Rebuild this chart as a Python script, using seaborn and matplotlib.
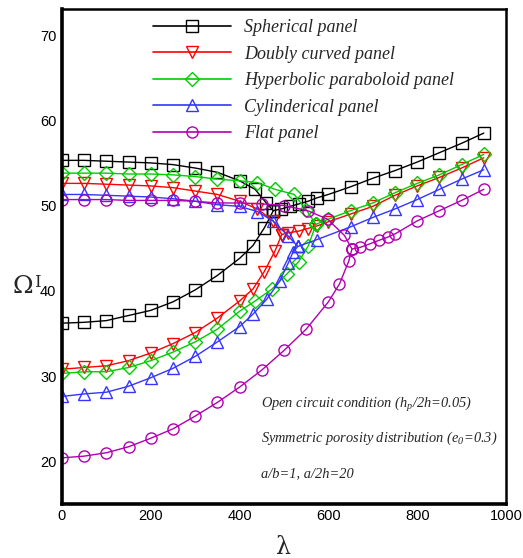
import matplotlib
matplotlib.use("Agg")
import matplotlib.pyplot as plt
from matplotlib.lines import Line2D
from matplotlib.ticker import MultipleLocator
import seaborn as sns

sns.set_style("white")
plt.rcParams["font.family"] = ["Liberation Sans", "DejaVu Sans"]
plt.rcParams["mathtext.fontset"] = "custom"
plt.rcParams["mathtext.it"] = "Liberation Serif:italic"
plt.rcParams["mathtext.rm"] = "Liberation Serif:italic"

# ---- frequency data: each panel has an upper branch, a lower branch and a
# ---- merged branch after the two frequencies coalesce
sph_up_x = [0, 50, 100, 150, 200, 250, 300, 350, 400, 435, 460, 476]
sph_up_y = [55.3, 55.3, 55.2, 55.1, 55.0, 54.8, 54.4, 53.9, 52.9, 51.9, 50.3, 49.4]
sph_lo_x = [0, 50, 100, 150, 200, 250, 300, 350, 400, 430, 456, 476]
sph_lo_y = [36.2, 36.3, 36.5, 37.1, 37.7, 38.7, 40.1, 41.8, 43.8, 45.3, 47.4, 49.4]
sph_mg_x = [476, 494, 514, 534, 554, 574, 600, 650, 700, 750, 800, 850, 900, 950]
sph_mg_y = [49.4, 49.6, 49.9, 50.2, 50.5, 50.9, 51.3, 52.2, 53.2, 54.1, 55.1, 56.2, 57.3, 58.5]

dbl_up_x = [0, 50, 100, 150, 200, 250, 300, 350, 400, 440, 476, 495]
dbl_up_y = [52.6, 52.6, 52.5, 52.4, 52.3, 52.1, 51.7, 51.3, 50.5, 49.6, 48.2, 46.6]
dbl_lo_x = [0, 50, 100, 150, 200, 250, 300, 350, 400, 430, 455, 480, 495]
dbl_lo_y = [30.8, 31.0, 31.2, 31.8, 32.7, 33.8, 35.1, 36.8, 38.8, 40.2, 42.2, 44.7, 46.6]
dbl_mg_x = [495, 510, 533, 553, 574, 600, 650, 700, 750, 800, 850, 900, 950]
dbl_mg_y = [46.6, 46.8, 47.0, 47.3, 47.6, 48.1, 49.0, 49.9, 51.2, 52.3, 53.3, 54.4, 55.6]

hyp_up_x = [0, 50, 100, 150, 200, 250, 300, 350, 400, 440, 480, 523, 550, 572]
hyp_up_y = [53.8, 53.8, 53.8, 53.7, 53.7, 53.6, 53.4, 53.1, 52.9, 52.7, 51.9, 51.3, 49.5, 47.8]
hyp_lo_x = [0, 50, 100, 150, 200, 250, 300, 350, 400, 435, 473, 507, 533, 555, 572]
hyp_lo_y = [30.3, 30.5, 30.5, 31.0, 31.8, 32.8, 34.0, 35.5, 37.6, 38.8, 40.2, 42.0, 43.4, 45.3, 47.8]
hyp_mg_x = [572, 600, 650, 700, 750, 800, 850, 900, 950]
hyp_mg_y = [47.8, 48.4, 49.4, 50.3, 51.5, 52.6, 53.6, 54.8, 56.0]

cyl_up_x = [0, 50, 100, 150, 200, 250, 300, 350, 400, 440, 475, 510, 531]
cyl_up_y = [51.3, 51.3, 51.2, 51.1, 51.0, 50.8, 50.5, 50.1, 49.9, 49.3, 48.2, 46.4, 45.2]
cyl_lo_x = [0, 50, 100, 150, 200, 250, 300, 350, 400, 431, 461, 490, 510, 520, 531]
cyl_lo_y = [27.6, 27.9, 28.1, 28.8, 29.8, 30.9, 32.3, 34.0, 35.8, 37.3, 39.0, 41.1, 43.3, 44.5, 45.2]
cyl_mg_x = [531, 574, 650, 700, 750, 800, 850, 900, 950]
cyl_mg_y = [45.2, 46.0, 47.5, 48.6, 49.6, 50.7, 51.9, 53.1, 54.2]

flat_up_x = [0, 50, 100, 150, 200, 250, 300, 350, 400, 450, 500, 553, 598, 636, 653]
flat_up_y = [50.7, 50.7, 50.7, 50.6, 50.6, 50.6, 50.5, 50.3, 50.3, 50.2, 50.0, 49.4, 48.4, 46.5, 44.9]
flat_lo_x = [0, 50, 100, 150, 200, 250, 300, 350, 400, 450, 500, 550, 600, 625, 646, 653]
flat_lo_y = [20.4, 20.6, 21.0, 21.7, 22.7, 23.8, 25.3, 26.9, 28.7, 30.7, 33.0, 35.5, 38.7, 40.8, 43.5, 44.9]
flat_mg_x = [653, 672, 693, 713, 734, 751, 800, 850, 900, 950]
flat_mg_y = [44.9, 45.1, 45.5, 45.9, 46.3, 46.7, 48.2, 49.4, 50.6, 51.9]

panels = [
    ("Spherical panel", "black", "s",
     [(sph_up_x, sph_up_y), (sph_lo_x, sph_lo_y), (sph_mg_x, sph_mg_y)]),
    ("Doubly curved panel", "#ff0000", "v",
     [(dbl_up_x, dbl_up_y), (dbl_lo_x, dbl_lo_y), (dbl_mg_x, dbl_mg_y)]),
    ("Hyperbolic paraboloid panel", "#00cc00", "D",
     [(hyp_up_x, hyp_up_y), (hyp_lo_x, hyp_lo_y), (hyp_mg_x, hyp_mg_y)]),
    ("Cylinderical panel", "#3535ff", "^",
     [(cyl_up_x, cyl_up_y), (cyl_lo_x, cyl_lo_y), (cyl_mg_x, cyl_mg_y)]),
    ("Flat panel", "#b000b0", "o",
     [(flat_up_x, flat_up_y), (flat_lo_x, flat_lo_y), (flat_mg_x, flat_mg_y)]),
]

fig = plt.figure(figsize=(5.23, 5.58), dpi=100)
ax = fig.add_axes([0.1185, 0.097, 0.849, 0.886])

msize = {"s": 8, "v": 8.5, "D": 7.5, "^": 8.5, "o": 8}
handles = []
for name, color, mk, branches in panels:
    for bx, by in branches:
        sns.lineplot(x=bx, y=by, ax=ax, sort=False, estimator=None,
                     color=color, lw=1.0, marker=mk, markersize=msize[mk],
                     markerfacecolor="none", markeredgecolor=color,
                     markeredgewidth=1.0, legend=False)
    handles.append(Line2D([], [], color=color, lw=1.2, marker=mk,
                          markersize=msize[mk], markerfacecolor="none",
                          markeredgecolor=color, markeredgewidth=1.0,
                          label=name))

ax.set_xlim(0, 1000)
ax.set_ylim(15, 73)
ax.xaxis.set_major_locator(MultipleLocator(200))
ax.xaxis.set_minor_locator(MultipleLocator(50))
ax.yaxis.set_minor_locator(MultipleLocator(2))
ax.set_yticks([20, 30, 40, 50, 60, 70])
ax.tick_params(axis="both", which="major", direction="in", length=8, width=2,
               labelsize=10.5, pad=4, colors="black")
ax.tick_params(axis="both", which="minor", direction="in", length=4, width=1)
ax.tick_params(top=False, right=False, which="both")

for side in ["left", "bottom"]:
    ax.spines[side].set_linewidth(2.6)
for side in ["top", "right"]:
    ax.spines[side].set_linewidth(1.8)
for s in ax.spines.values():
    s.set_color("black")

ax.set_xlabel("λ", fontsize=17, family="DejaVu Serif", labelpad=9)
ax.set_ylabel("")
fig.text(0.043, 0.487, r"$\Omega$", fontsize=18, ha="center", va="center",
         math_fontfamily="dejavuserif")
fig.text(0.072, 0.494, "I", fontsize=12, family="DejaVu Serif",
         ha="center", va="center")

leg = ax.legend(handles=handles, loc="upper left",
                bbox_to_anchor=(0.183, 1.0), frameon=False,
                prop={"family": "Liberation Serif", "style": "italic",
                      "size": 13},
                handlelength=4.3, handletextpad=0.75, labelspacing=0.52,
                borderaxespad=0.15)

notes = [
    "Open circuit condition (h$_p$/2h=0.05)",
    "Symmetric porosity distribution (e$_0$=0.3)",
    "a/b=1, a/2h=20",
]
ny = [0.202, 0.1335, 0.0607]
for txt, yy in zip(notes, ny):
    ax.text(0.449, yy, txt, transform=ax.transAxes, fontsize=10.4,
            family="Liberation Serif", style="italic", va="center",
            ha="left")

fig.savefig("out.png", dpi=100)
